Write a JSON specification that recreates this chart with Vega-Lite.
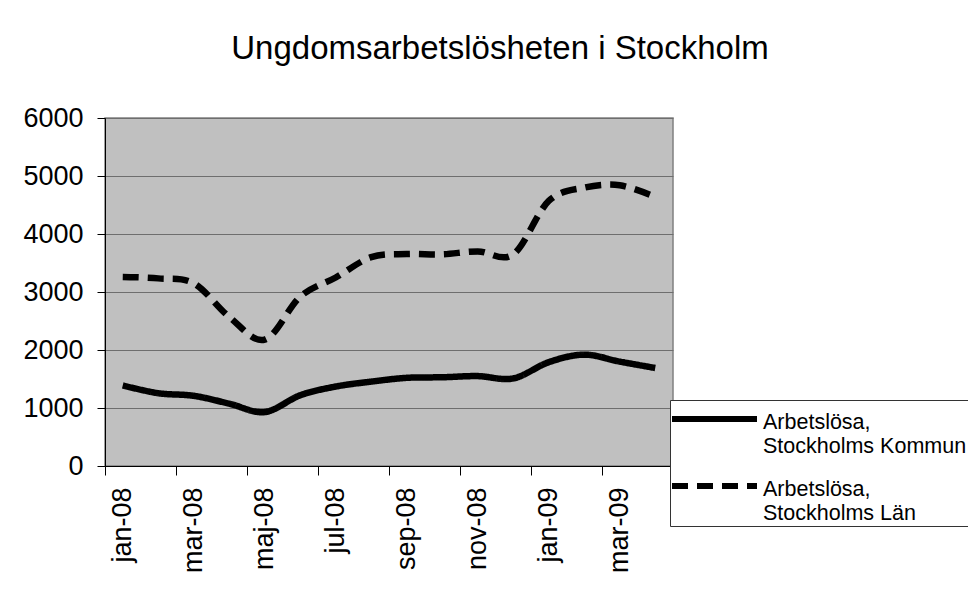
{
  "$schema": "https://vega.github.io/schema/vega-lite/v6.json",
  "width": 568,
  "height": 348,
  "autosize": {"type": "none"},
  "padding": {"left": 105, "top": 118, "right": 295, "bottom": 138},
  "background": "white",
  "title": {
    "text": "Ungdomsarbetslösheten i Stockholm",
    "font": "Liberation Sans",
    "fontSize": 33,
    "fontWeight": "normal",
    "color": "black",
    "anchor": "middle",
    "frame": "group",
    "dx": 111,
    "offset": 38
  },
  "data": {
    "values": [
      {"month": "jan-08", "serie": "Arbetslösa, Stockholms Kommun", "value": 1390},
      {"month": "feb-08", "serie": "Arbetslösa, Stockholms Kommun", "value": 1255},
      {"month": "mar-08", "serie": "Arbetslösa, Stockholms Kommun", "value": 1210},
      {"month": "apr-08", "serie": "Arbetslösa, Stockholms Kommun", "value": 1075},
      {"month": "maj-08", "serie": "Arbetslösa, Stockholms Kommun", "value": 930},
      {"month": "jun-08", "serie": "Arbetslösa, Stockholms Kommun", "value": 1220},
      {"month": "jul-08", "serie": "Arbetslösa, Stockholms Kommun", "value": 1370},
      {"month": "aug-08", "serie": "Arbetslösa, Stockholms Kommun", "value": 1455},
      {"month": "sep-08", "serie": "Arbetslösa, Stockholms Kommun", "value": 1520},
      {"month": "okt-08", "serie": "Arbetslösa, Stockholms Kommun", "value": 1530},
      {"month": "nov-08", "serie": "Arbetslösa, Stockholms Kommun", "value": 1550},
      {"month": "dec-08", "serie": "Arbetslösa, Stockholms Kommun", "value": 1510},
      {"month": "jan-09", "serie": "Arbetslösa, Stockholms Kommun", "value": 1790},
      {"month": "feb-09", "serie": "Arbetslösa, Stockholms Kommun", "value": 1920},
      {"month": "mar-09", "serie": "Arbetslösa, Stockholms Kommun", "value": 1800},
      {"month": "apr-09", "serie": "Arbetslösa, Stockholms Kommun", "value": 1690},
      {"month": "jan-08", "serie": "Arbetslösa, Stockholms Län", "value": 3260},
      {"month": "feb-08", "serie": "Arbetslösa, Stockholms Län", "value": 3235},
      {"month": "mar-08", "serie": "Arbetslösa, Stockholms Län", "value": 3150},
      {"month": "apr-08", "serie": "Arbetslösa, Stockholms Län", "value": 2570},
      {"month": "maj-08", "serie": "Arbetslösa, Stockholms Län", "value": 2180},
      {"month": "jun-08", "serie": "Arbetslösa, Stockholms Län", "value": 2920},
      {"month": "jul-08", "serie": "Arbetslösa, Stockholms Län", "value": 3250},
      {"month": "aug-08", "serie": "Arbetslösa, Stockholms Län", "value": 3600},
      {"month": "sep-08", "serie": "Arbetslösa, Stockholms Län", "value": 3655},
      {"month": "okt-08", "serie": "Arbetslösa, Stockholms Län", "value": 3650},
      {"month": "nov-08", "serie": "Arbetslösa, Stockholms Län", "value": 3700},
      {"month": "dec-08", "serie": "Arbetslösa, Stockholms Län", "value": 3650},
      {"month": "jan-09", "serie": "Arbetslösa, Stockholms Län", "value": 4570},
      {"month": "feb-09", "serie": "Arbetslösa, Stockholms Län", "value": 4800},
      {"month": "mar-09", "serie": "Arbetslösa, Stockholms Län", "value": 4840},
      {"month": "apr-09", "serie": "Arbetslösa, Stockholms Län", "value": 4640}
    ]
  },
  "mark": {"type": "line", "interpolate": "cardinal", "strokeWidth": 6.5, "color": "black", "strokeCap": "butt"},
  "encoding": {
    "x": {
      "field": "month",
      "type": "ordinal",
      "bandPosition": 0.5,
      "sort": ["jan-08","feb-08","mar-08","apr-08","maj-08","jun-08","jul-08","aug-08","sep-08","okt-08","nov-08","dec-08","jan-09","feb-09","mar-09","apr-09"],
      "scale": {"type": "band", "paddingInner": 0, "paddingOuter": 0},
      "axis": {
        "title": null,
        "values": ["jan-08","mar-08","maj-08","jul-08","sep-08","nov-08","jan-09","mar-09"],
        "bandPosition": 0,
        "labelAngle": -90,
        "labelAlign": "right",
        "labelBaseline": "middle",
        "labelFont": "Liberation Sans",
        "labelFontSize": 27,
        "labelColor": "black",
        "labelPadding": 12,
        "tickSize": 9,
        "tickColor": "black",
        "domainColor": "black",
        "grid": false
      }
    },
    "y": {
      "field": "value",
      "type": "quantitative",
      "scale": {"domain": [0, 6000], "nice": false},
      "axis": {
        "title": null,
        "format": "d",
        "values": [0, 1000, 2000, 3000, 4000, 5000, 6000],
        "labelFont": "Liberation Sans",
        "labelFontSize": 27,
        "labelColor": "black",
        "labelPadding": 14,
        "tickSize": 8,
        "tickColor": "black",
        "domainColor": "black",
        "grid": true,
        "gridColor": "#6e6e6e",
        "gridWidth": 1
      }
    },
    "strokeDash": {
      "field": "serie",
      "type": "nominal",
      "scale": {
        "domain": ["Arbetslösa, Stockholms Kommun", "Arbetslösa, Stockholms Län"],
        "range": [[1, 0], [16, 9]]
      },
      "legend": {
        "title": null,
        "orient": "none",
        "legendX": 565,
        "legendY": 282,
        "symbolType": "M-1,-0.67H1",
        "symbolSize": 7225,
        "symbolOffset": -3,
        "symbolStrokeWidth": 6,
        "symbolStrokeColor": "black",
        "labelFont": "Liberation Sans",
        "labelFontSize": 21.5,
        "labelColor": "black",
        "labelBaseline": "top",
        "labelOffset": 3,
        "labelExpr": "[slice(datum.label, 0, 11), slice(datum.label, 12)]",
        "labelLimit": 400,
        "rowPadding": 12,
        "padding": 2,
        "fillColor": "white",
        "strokeColor": "#333",
        "encode": {
          "labels": {"update": {"lineHeight": {"value": 23.5}, "dy": {"value": -35.5}}},
          "symbols": {
            "enter": {"strokeDash": {"signal": "datum.index === 1 || indexof(datum.value, 'Län') >= 0 ? [17, 29] : [1, 0]"}},
            "update": {"strokeDash": {"signal": "datum.index === 1 || indexof(datum.value, 'Län') >= 0 ? [17, 29] : [1, 0]"}}
          }
        }
      }
    }
  },
  "config": {
    "view": {"fill": "#c0c0c0", "stroke": "#808080", "strokeWidth": 1.5}
  }
}
